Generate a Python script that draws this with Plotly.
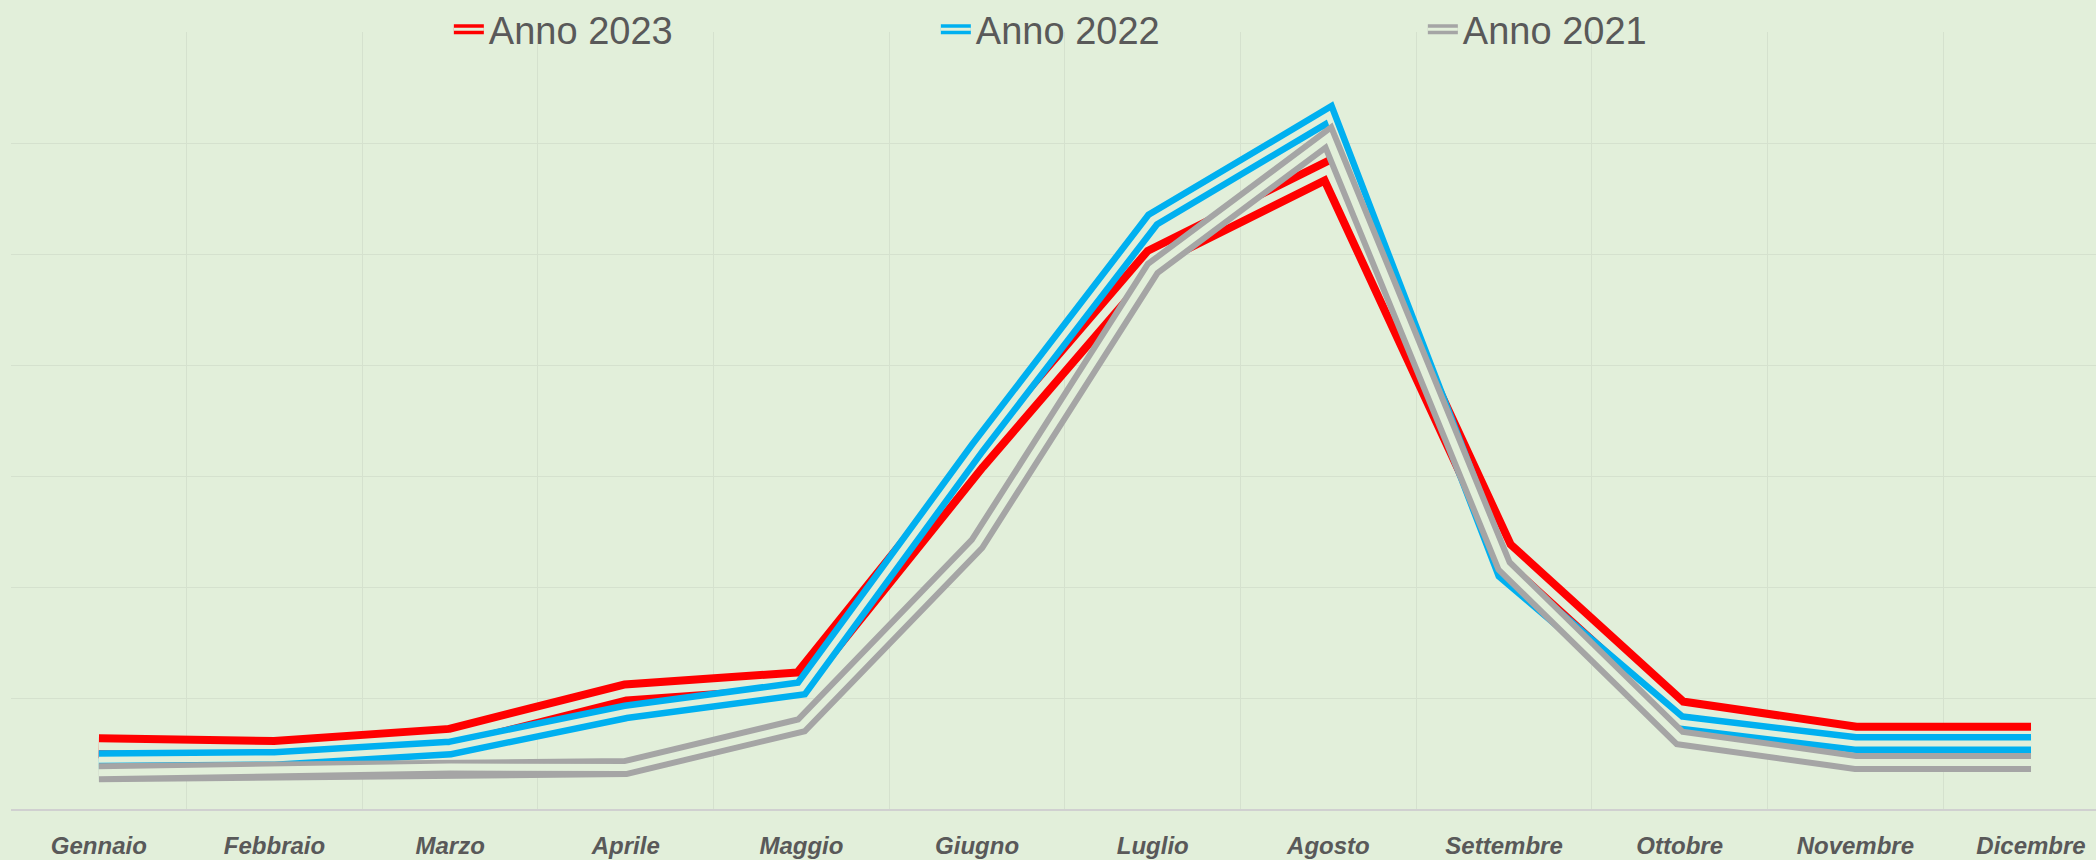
import plotly.graph_objects as go

months = ["Gennaio", "Febbraio", "Marzo", "Aprile", "Maggio", "Giugno",
          "Luglio", "Agosto", "Settembre", "Ottobre", "Novembre", "Dicembre"]

anno_2023 = [56.5, 54, 65, 105, 116, 313, 497, 576, 234, 90, 67, 67]
anno_2022 = [44.4, 45.6, 55, 87.5, 108.6, 325, 531, 625, 213, 78, 59, 59]
anno_2021 = [32.7, 35.4, 37.8, 37.4, 75.4, 239, 487, 605, 219, 64, 42, 42]

series_names = ["Anno 2023", "Anno 2022", "Anno 2021"]
series_values = [anno_2023, anno_2022, anno_2021]
series_colors = ["#FF0000", "#00B0F0", "#A5A5A5"]
outer_widths = [24, 19, 19]
gap_widths = [8, 6, 7]

BG = "#E2EFDA"
GRID = "#D5E1CE"
TEXT = "#595959"
FONT = "Liberation Sans, Arial, sans-serif"

fig = go.Figure()
for name, vals, col, ow, gw in zip(series_names, series_values, series_colors,
                                    outer_widths, gap_widths):
    fig.add_trace(go.Scatter(x=months, y=vals, mode="lines", name=name,
                             legend="legend",
                             line=dict(color=col, width=ow),
                             hoverinfo="skip"))
    fig.add_trace(go.Scatter(x=months, y=vals, mode="lines", name=name,
                             showlegend=False,
                             line=dict(color=BG, width=gw),
                             hoverinfo="skip"))

# legend-only entries: draw the light centre stripe of the double-line symbol
for name in series_names:
    fig.add_trace(go.Scatter(x=[None], y=[None], mode="lines", name=name,
                             legend="legend2",
                             line=dict(color=BG, width=3),
                             hoverinfo="skip"))

legend_common = dict(orientation="h", x=0.21, xanchor="left",
                     y=1.003, yanchor="middle",
                     bgcolor="rgba(0,0,0,0)",
                     entrywidth=442, entrywidthmode="pixels")

fig.update_layout(
    width=2096, height=860,
    paper_bgcolor=BG, plot_bgcolor=BG,
    margin=dict(l=11, r=0, t=32, b=51, autoexpand=False),
    font=dict(family=FONT, color=TEXT),
    showlegend=True,
    legend=dict(**legend_common,
                font=dict(size=38, color=TEXT, family=FONT)),
    legend2=dict(**legend_common,
                 font=dict(size=38, color="rgba(0,0,0,0)", family=FONT)),
    xaxis=dict(type="category", categoryorder="array", categoryarray=months,
               range=[-0.5, 11.37], tickson="boundaries",
               showgrid=True, gridcolor=GRID, gridwidth=1,
               showline=True, linecolor="#D0D0D0", linewidth=2,
               ticks="", ticklabelstandoff=14,
               tickfont=dict(size=24, color=TEXT, weight="bold", style="italic",
                             family=FONT),
               zeroline=False, fixedrange=True, automargin=False),
    yaxis=dict(range=[0, 700], dtick=100, showticklabels=False,
               showgrid=True, gridcolor=GRID, gridwidth=1,
               zeroline=False, showline=False, fixedrange=True,
               automargin=False),
)

fig.write_html("out.html",
               config={"displayModeBar": False},
               post_script="document.body.style.margin='0';"
                           "document.body.style.background='%s';" % BG)
